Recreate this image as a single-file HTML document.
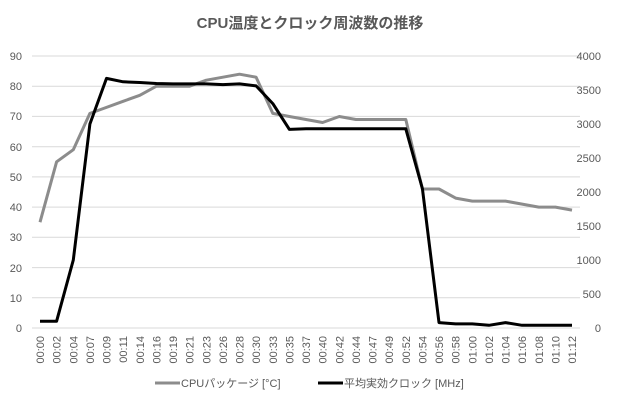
<!DOCTYPE html><html><head><meta charset="utf-8"><style>body{margin:0;background:#fff}svg{display:block;font-family:"Liberation Sans","Noto Sans CJK JP",sans-serif}</style></head><body>
<svg width="620" height="400" xmlns="http://www.w3.org/2000/svg">
<rect width="620" height="400" fill="#fff"/>
<text x="310" y="28" text-anchor="middle" font-size="15" font-weight="bold" fill="#595959">CPU温度とクロック周波数の推移</text>
<g stroke="#d9d9d9" stroke-width="1">
<line x1="32" x2="580" y1="56" y2="56"/><line x1="32" x2="580" y1="86.2" y2="86.2"/><line x1="32" x2="580" y1="116.4" y2="116.4"/><line x1="32" x2="580" y1="146.7" y2="146.7"/><line x1="32" x2="580" y1="176.9" y2="176.9"/><line x1="32" x2="580" y1="207.1" y2="207.1"/><line x1="32" x2="580" y1="237.3" y2="237.3"/><line x1="32" x2="580" y1="267.6" y2="267.6"/><line x1="32" x2="580" y1="297.8" y2="297.8"/><line x1="32" x2="580" y1="328" y2="328"/>
</g>
<g font-size="11" fill="#595959" text-anchor="end">
<text x="22" y="60">90</text><text x="22" y="90">80</text><text x="22" y="120">70</text><text x="22" y="151">60</text><text x="22" y="181">50</text><text x="22" y="211">40</text><text x="22" y="241">30</text><text x="22" y="272">20</text><text x="22" y="302">10</text><text x="22" y="332">0</text>
</g>
<g font-size="11" fill="#595959" text-anchor="end">
<text x="601" y="60">4000</text><text x="601" y="94">3500</text><text x="601" y="128">3000</text><text x="601" y="162">2500</text><text x="601" y="196">2000</text><text x="601" y="230">1500</text><text x="601" y="264">1000</text><text x="601" y="298">500</text><text x="601" y="332">0</text>
</g>
<g font-size="11" fill="#595959" text-anchor="end">
<text transform="translate(44,336) rotate(-90)">00:00</text>
<text transform="translate(60.6,336) rotate(-90)">00:02</text>
<text transform="translate(77.3,336) rotate(-90)">00:04</text>
<text transform="translate(93.9,336) rotate(-90)">00:07</text>
<text transform="translate(110.5,336) rotate(-90)">00:09</text>
<text transform="translate(127.1,336) rotate(-90)">00:11</text>
<text transform="translate(143.8,336) rotate(-90)">00:14</text>
<text transform="translate(160.4,336) rotate(-90)">00:16</text>
<text transform="translate(177,336) rotate(-90)">00:19</text>
<text transform="translate(193.6,336) rotate(-90)">00:21</text>
<text transform="translate(210.3,336) rotate(-90)">00:23</text>
<text transform="translate(226.9,336) rotate(-90)">00:26</text>
<text transform="translate(243.5,336) rotate(-90)">00:28</text>
<text transform="translate(260.1,336) rotate(-90)">00:30</text>
<text transform="translate(276.8,336) rotate(-90)">00:33</text>
<text transform="translate(293.4,336) rotate(-90)">00:35</text>
<text transform="translate(310,336) rotate(-90)">00:37</text>
<text transform="translate(326.6,336) rotate(-90)">00:40</text>
<text transform="translate(343.3,336) rotate(-90)">00:42</text>
<text transform="translate(359.9,336) rotate(-90)">00:44</text>
<text transform="translate(376.5,336) rotate(-90)">00:47</text>
<text transform="translate(393.1,336) rotate(-90)">00:49</text>
<text transform="translate(409.8,336) rotate(-90)">00:52</text>
<text transform="translate(426.4,336) rotate(-90)">00:54</text>
<text transform="translate(443,336) rotate(-90)">00:56</text>
<text transform="translate(459.6,336) rotate(-90)">00:58</text>
<text transform="translate(476.3,336) rotate(-90)">01:00</text>
<text transform="translate(492.9,336) rotate(-90)">01:02</text>
<text transform="translate(509.5,336) rotate(-90)">01:04</text>
<text transform="translate(526.1,336) rotate(-90)">01:06</text>
<text transform="translate(542.8,336) rotate(-90)">01:08</text>
<text transform="translate(559.4,336) rotate(-90)">01:10</text>
<text transform="translate(576,336) rotate(-90)">01:12</text>
</g>
<polyline fill="none" stroke="#8c8c8c" stroke-width="3" stroke-linejoin="round" points="40,222.2 56.6,161.8 73.3,149.7 89.9,113.4 106.5,107.4 123.1,101.3 139.8,95.3 156.4,86.2 173,86.2 189.6,86.2 206.3,80.2 222.9,77.2 239.5,74.2 256.1,77.2 272.8,113.4 289.4,116.5 306,119.5 322.6,122.5 339.3,116.5 355.9,119.5 372.5,119.5 389.1,119.5 405.8,119.5 422.4,189 439,189 455.6,198.1 472.3,201.1 488.9,201.1 505.5,201.1 522.1,204.1 538.8,207.1 555.4,207.1 572,210.1"/>
<polyline fill="none" stroke="#000" stroke-width="3" stroke-linejoin="round" points="40,321.2 56.6,321.2 73.3,260 89.9,124 106.5,78.4 123.1,81.8 139.8,82.5 156.4,83.5 173,83.9 189.6,83.9 206.3,83.9 222.9,84.6 239.5,83.9 256.1,85.9 272.8,103.6 289.4,129.4 306,128.8 322.6,128.8 339.3,128.8 355.9,128.8 372.5,128.8 389.1,128.8 405.8,128.8 422.4,188.6 439,322.6 455.6,323.9 472.3,323.9 488.9,325.3 505.5,322.6 522.1,325.3 538.8,325.3 555.4,325.3 572,325.3"/>
<line x1="155" x2="180" y1="383" y2="383" stroke="#8c8c8c" stroke-width="3"/>
<text x="181" y="387" font-size="11" fill="#595959">CPUパッケージ [°C]</text>
<line x1="318" x2="343" y1="383" y2="383" stroke="#000" stroke-width="3"/>
<text x="344" y="387" font-size="11" fill="#595959">平均実効クロック [MHz]</text>
</svg>
</body></html>
